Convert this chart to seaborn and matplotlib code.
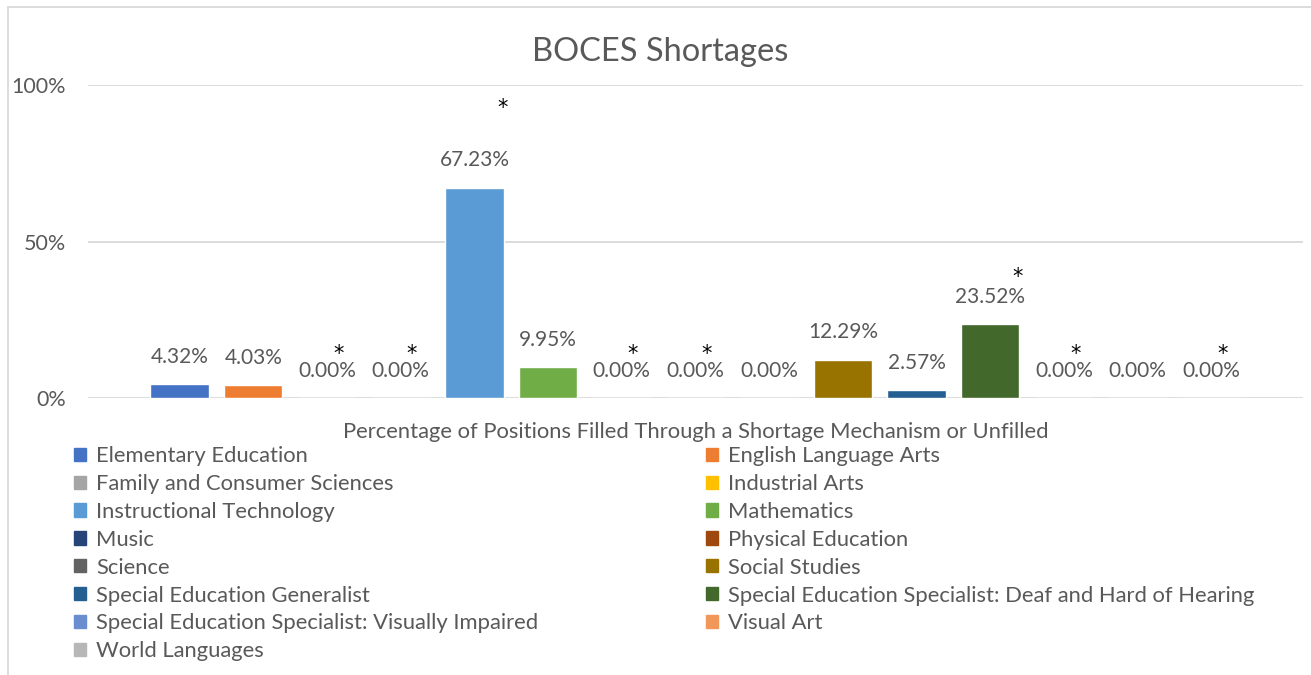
import seaborn as sns
import matplotlib.pyplot as plt
import matplotlib.patches as mpatches
import matplotlib.lines as mlines
import pandas as pd

# Subjects (one bar each) and the share of positions filled through a shortage mechanism
subjects = [
    "Elementary Education", "English Language Arts", "Family and Consumer Sciences",
    "Industrial Arts", "Instructional Technology", "Mathematics", "Music",
    "Physical Education", "Science", "Social Studies", "Special Education Generalist",
    "Special Education Specialist: Deaf and Hard of Hearing",
    "Special Education Specialist: Visually Impaired", "Visual Art", "World Languages",
]
pct = [4.32, 4.03, 0.00, 0.00, 67.23, 9.95, 0.00, 0.00, 0.00, 12.29, 2.57, 23.52, 0.00, 0.00, 0.00]
# subjects flagged with an asterisk
flagged = [False, False, True, True, True, False, True, True, False, False, False, True, True, False, True]
yticks = [0, 50, 100]
ytick_labels = ["0%", "50%", "100%"]

colors = ["#4472C4", "#ED7D31", "#A5A5A5", "#FFC000", "#5B9BD5", "#70AD47", "#264478",
          "#9E480E", "#636363", "#997300", "#255E91", "#43682B", "#698ED0", "#F1975A", "#B7B7B7"]

sns.set_theme(style="white")
plt.rcParams['font.family'] = ['Lato', 'DejaVu Sans']
text_col = "#595959"
W, H = 1311, 675

df = pd.DataFrame({"subject": subjects, "pct": pct})

fig = plt.figure(figsize=(W / 100, H / 100), dpi=100)
ax = fig.add_axes([88 / W, 1 - 398 / H, (1303 - 88) / W, (398 - 85) / H])

sns.barplot(data=df, x="subject", y="pct", hue="subject", palette=colors,
            width=0.79, legend=False, ax=ax, saturation=1)

ax.set_xlim(-1.243, len(subjects) - 1 + 1.243)
ax.set_ylim(0, 100)
ax.set_yticks(yticks)
ax.set_yticklabels(ytick_labels, color=text_col, fontsize=15.5)
ax.tick_params(axis='y', length=0, pad=16)
ax.set_xticks([])
ax.yaxis.grid(True, color="#D9D9D9", linewidth=1.3)
ax.set_axisbelow(True)
for s in ax.spines.values():
    s.set_visible(False)
ax.set_ylabel("")
ax.set_xlabel("Percentage of Positions Filled Through a Shortage Mechanism or Unfilled",
              color=text_col, fontsize=15.8, labelpad=17)

# value labels and asterisks
for i, (v, f) in enumerate(zip(pct, flagged)):
    ax.annotate(f"{v:.2f}%", (i, v), xytext=(0, 19.5), textcoords="offset points",
                ha="center", va="center", fontsize=15, color=text_col)
    if f:
        dx = 8 if v == 0 else 20
        dy = 32 if v == 0 else 34
        if v > 50:
            dy = 57
        ax.annotate("*", (i, v), xytext=(dx, dy), textcoords="offset points",
                    ha="center", va="center", fontsize=15, color="black",
                    family="DejaVu Sans")

fig.suptitle("BOCES Shortages", x=660 / W, y=1 - 52 / H, va="center",
             fontsize=23.5, color=text_col)

# legend laid out row by row across two columns
handles = [mpatches.Patch(color=c, label=s) for s, c in zip(subjects, colors)]
for start, x0 in [(0, 74), (1, 706)]:
    idx = list(range(start, len(handles), 2))
    fig.legend([handles[k] for k in idx], [subjects[k] for k in idx],
               loc="upper left", bbox_to_anchor=(x0 / W, 1 - 446 / H), frameon=False,
               fontsize=15.8, labelcolor=text_col, handlelength=0.55, handleheight=0.55,
               handletextpad=0.45, labelspacing=0.36, borderaxespad=0, borderpad=0)

# chart area border
fig.add_artist(mlines.Line2D([8 / W, 1], [1 - 7 / H, 1 - 7 / H], color="#D9D9D9", lw=1.3))
fig.add_artist(mlines.Line2D([8 / W, 8 / W], [0, 1 - 7 / H], color="#D9D9D9", lw=1.3))

fig.savefig("out.png", dpi=100)
